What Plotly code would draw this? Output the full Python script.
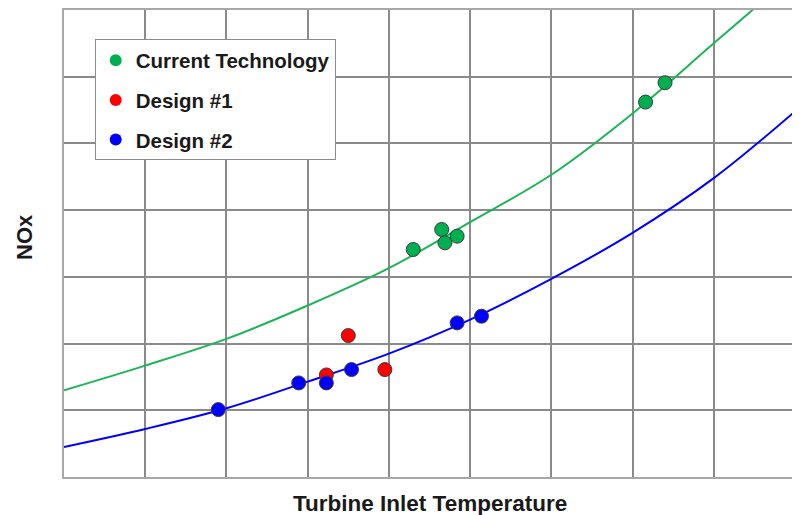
import plotly.graph_objects as go

# Measured points (grid units; axes have no tick labels)
current_x = [4.30, 4.65, 4.69, 4.84, 7.16, 7.40]
current_y = [3.41, 3.71, 3.51, 3.61, 5.62, 5.91]

design1_x = [3.23, 3.50, 3.95]
design1_y = [1.53, 2.12, 1.61]

design2_x = [1.90, 2.89, 3.23, 3.54, 4.84, 5.14]
design2_y = [1.01, 1.41, 1.41, 1.61, 2.31, 2.41]

# Trend curves
curve_x = [0, 1, 2, 3, 4, 5, 6, 7, 8, 9]
current_curve_y = [1.30, 1.67, 2.07, 2.57, 3.13, 3.82, 4.53, 5.45, 6.50, 7.55]
design2_curve_y = [0.45, 0.72, 1.03, 1.43, 1.85, 2.36, 2.97, 3.66, 4.48, 5.48]

names = ["Current Technology", "Design #1", "Design #2"]
colors = ["#00B050", "#FF0000", "#0000FF"]

FONT = "Liberation Sans, Arial, sans-serif"

fig = go.Figure()

fig.add_trace(go.Scatter(x=curve_x, y=current_curve_y, mode="lines",
                         line=dict(color="#1DB45A", width=2, shape="spline"),
                         showlegend=False, hoverinfo="skip"))
fig.add_trace(go.Scatter(x=curve_x, y=design2_curve_y, mode="lines",
                         line=dict(color="#0000FF", width=2, shape="spline"),
                         showlegend=False, hoverinfo="skip"))

for xs, ys, nm, c in [(current_x, current_y, names[0], colors[0]),
                      (design1_x, design1_y, names[1], colors[1]),
                      (design2_x, design2_y, names[2], colors[2])]:
    fig.add_trace(go.Scatter(x=xs, y=ys, mode="markers", name=nm,
                             marker=dict(color=c, size=14,
                                         line=dict(color="#3a3a3a", width=1)),
                             showlegend=False))

# legend entries
for nm, c in zip(names, colors):
    fig.add_trace(go.Scatter(x=[None], y=[None], mode="markers", name=nm,
                             legendgroup=nm,
                             marker=dict(color=c, size=11)))

axis_common = dict(showticklabels=False, ticks="", zeroline=False,
                   showgrid=True, gridcolor="#8a8a8a", gridwidth=1.5,
                   showline=True, linecolor="#a8a8a8", linewidth=1.5,
                   mirror=True, dtick=1, tick0=0, fixedrange=True)

# page body has an 8px margin, so the figure starts at (8, 8)
fig.update_layout(
    width=792, height=507,
    margin=dict(l=56, r=5, t=0, b=38),
    paper_bgcolor="white", plot_bgcolor="white",
    font=dict(family=FONT, color="#1a1a1a"),
    xaxis=dict(range=[0, 9], **axis_common),
    yaxis=dict(range=[0, 7], **axis_common),
    legend=dict(x=0.042, y=0.937, xanchor="left", yanchor="top",
                bgcolor="white", bordercolor="#8c8c8c", borderwidth=1,
                font=dict(family=FONT, size=20.5, weight="bold", color="#1a1a1a"),
                tracegroupgap=10, itemsizing="constant"),
    annotations=[
        dict(text="Turbine Inlet Temperature", xref="paper", yref="paper",
             x=0.5, y=0, xanchor="center", yanchor="middle", yshift=-26,
             showarrow=False,
             font=dict(family=FONT, size=22.5, weight="bold", color="#1a1a1a")),
        dict(text="NOx", xref="paper", yref="paper",
             x=0, y=0.514, xanchor="center", yanchor="middle", xshift=-39,
             textangle=-90, showarrow=False,
             font=dict(family=FONT, size=22, weight="bold", color="#1a1a1a")),
    ],
)

fig.write_html("out.html")
